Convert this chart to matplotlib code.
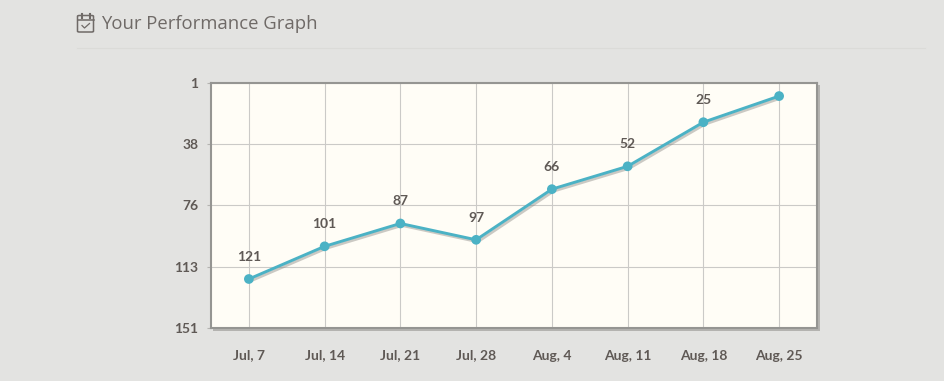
import matplotlib
matplotlib.use("Agg")
import matplotlib.pyplot as plt
import matplotlib.patches as mpatches
import matplotlib.patheffects as pe
from matplotlib.lines import Line2D

### Data
weeks = ["Jul, 7", "Jul, 14", "Jul, 21", "Jul, 28", "Aug, 4", "Aug, 11", "Aug, 18", "Aug, 25"]
ranks = [121, 101, 87, 97, 66, 52, 25, 9]
point_labels = ["121", "101", "87", "97", "66", "52", "25", ""]  # last point has no label
rank_ticks = [1, 38.5, 76, 113.5, 151]  # evenly spaced, the chart shows them truncated
rank_tick_labels = ["1", "38", "76", "113", "151"]

W, H = 944, 381
BG = "#e3e3e1"
TEXT = "#5f5955"
GRID = "#cbcac7"
TEAL = "#4bb2c5"
LABEL_FONT = dict(family="Lato", fontweight="bold")

fig = plt.figure(figsize=(W / 100, H / 100), dpi=100, facecolor=BG)

# plot area in pixels: x 211-817, y 83-328
ax = fig.add_axes([211 / W, 1 - 328 / H, 606 / W, 245 / H], facecolor="#fffdf6")
x = list(range(len(weeks)))

# drop shadow of the plot frame
shadow = mpatches.Rectangle((213 / W, 1 - 331 / H), 607 / W, 246 / H, transform=fig.transFigure,
                            facecolor="#b4b3b0", edgecolor="none", zorder=-1)
fig.add_artist(shadow)

ax.plot(x, ranks, color=TEAL, lw=2.1, marker="o", ms=7, mew=0, zorder=5, clip_on=False,
        path_effects=[pe.SimpleLineShadow(offset=(1.2, -1.4), shadow_color="#8c8a86", alpha=0.45),
                      pe.Normal()])

for xi, rank, label in zip(x, ranks, point_labels):
    ax.annotate(label, (xi, rank), xytext=(0, 11.5), textcoords="offset points", ha="center", va="bottom",
                fontsize=10, color=TEXT, **LABEL_FONT)

ax.set_xlim(-0.5, len(weeks) - 0.5)
ax.set_ylim(151, 1)
ax.set_xticks(x)
ax.set_xticklabels(weeks)
ax.set_yticks(rank_ticks)
ax.set_yticklabels(rank_tick_labels)
ax.grid(True, color=GRID, lw=0.8)
ax.set_axisbelow(True)

ax.tick_params(axis="x", length=0, pad=15.5, labelcolor=TEXT, labelsize=10)
ax.tick_params(axis="y", length=3, width=0.8, color="#b5b4b1", pad=6, labelcolor=TEXT, labelsize=10)
for lbl in ax.get_xticklabels() + ax.get_yticklabels():
    lbl.set_family(LABEL_FONT["family"])
    lbl.set_fontweight(LABEL_FONT["fontweight"])

for s in ax.spines.values():
    s.set_color("#959592")
    s.set_linewidth(1.5)

# heading
fig.text(101 / W, 1 - 24 / H, "Your Performance Graph", fontsize=13.3, color="#6f6a67",
         family="Open Sans", va="center", ha="left")
fig.add_artist(Line2D([77 / W, 925 / W], [1 - 47.5 / H] * 2, color="#dbdbd8", lw=0.8))

# calendar icon
icon = "#6f6a67"
fig.add_artist(mpatches.FancyBboxPatch((77.5 / W, 1 - 32 / H), 16 / W, 16.5 / H, transform=fig.transFigure,
                                       boxstyle="round,pad=0,rounding_size=0.002", fc="none", ec=icon, lw=1.1))
fig.add_artist(Line2D([77.5 / W, 93.5 / W], [1 - 20 / H] * 2, color=icon, lw=1.1))
for px in (81.5, 89.5):
    fig.add_artist(Line2D([px / W, px / W], [1 - 18 / H, 1 - 13.5 / H], color=icon, lw=1.5))
fig.add_artist(Line2D([82 / W, 84.5 / W, 89.5 / W], [1 - 25.5 / H, 1 - 28 / H, 1 - 23.5 / H], color=icon, lw=0.9))

fig.savefig("out.png", dpi=100, facecolor=BG)
